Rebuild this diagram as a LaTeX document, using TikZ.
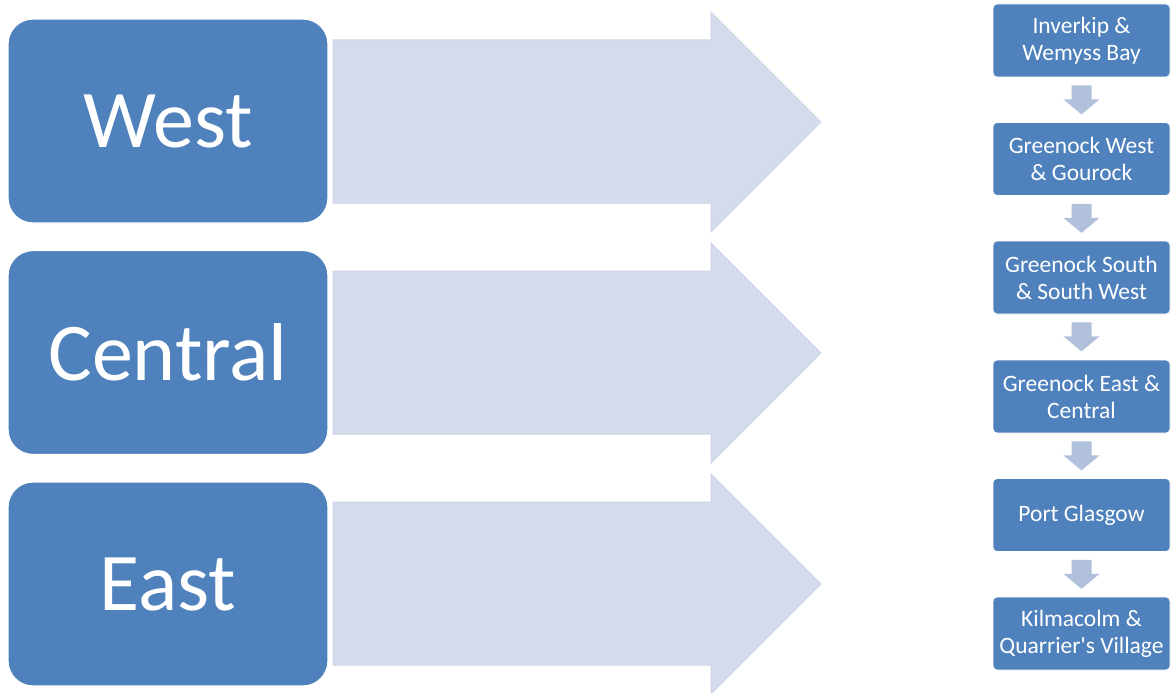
\documentclass[tikz,border=0pt]{standalone}
\usepackage{fontspec}
\setmainfont{Carlito}
\definecolor{boxblue}{HTML}{4F81BD}
\definecolor{bigarrow}{HTML}{D4DBEB}
\definecolor{bigarrowline}{HTML}{CCD4E7}
\definecolor{smallarrow}{HTML}{B1C1DC}
\begin{document}
\begin{tikzpicture}[x=1pt, y=-1pt,
			area/.style = {fill=boxblue, draw=white, line width=1.2pt, rounded corners=25pt,
				minimum width=320pt, minimum height=204pt, text=white,
				font=\fontsize{82}{98}\selectfont},
			ward/.style = {fill=boxblue, draw=white, line width=0.8pt, rounded corners=4pt,
				minimum width=177pt, minimum height=73pt, text=white, align=center,
				inner xsep=1pt, font=\fontsize{23.5}{27}\selectfont},
			bigarr/.style = {fill=bigarrow, draw=bigarrowline, line width=1pt},
			smallarr/.style = {fill=smallarrow}]
			
			\useasboundingbox (0,0) rectangle (1171,693);
			
			% big arrows
			\foreach \dy in {0,231,462}
				\draw[bigarr] (333,40+\dy) -- (711,40+\dy) -- (711,12+\dy) -- (821,122+\dy)
					-- (711,232+\dy) -- (711,203+\dy) -- (333,203+\dy) -- cycle;
			
			% areas
			\node[area] (west) at (168,121) {West};
			\node[area] (central) at (168,352.5) {Central};
			\node[area] (east) at (168,584) {East};
			
			% wards
			\node[ward] (s1) at (1081.5,40.5) {Inverkip \&\\Wemyss Bay};
			\node[ward] (s2) at (1081.5,159) {Greenock West\\\& Gourock};
			\node[ward] (s3) at (1081.5,277.5) {Greenock South\\\& South West};
			\node[ward] (s4) at (1081.5,396.5) {Greenock East \&\\Central};
			\node[ward] (s5) at (1081.5,515) {Port Glasgow};
			\node[ward] (s6) at (1081.5,633.5) {Kilmacolm \&\\Quarrier\textquotesingle s Village};
			
			% small arrows
			\foreach \a in {1,...,5}
				\fill[smallarr] (s\a.south) ++(-10,8) -- ++(20,0) -- ++(0,14) -- ++(8,0)
					-- ++(-18,15) -- ++(-18,-15) -- ++(8,0) -- cycle;
\end{tikzpicture}
\end{document}
